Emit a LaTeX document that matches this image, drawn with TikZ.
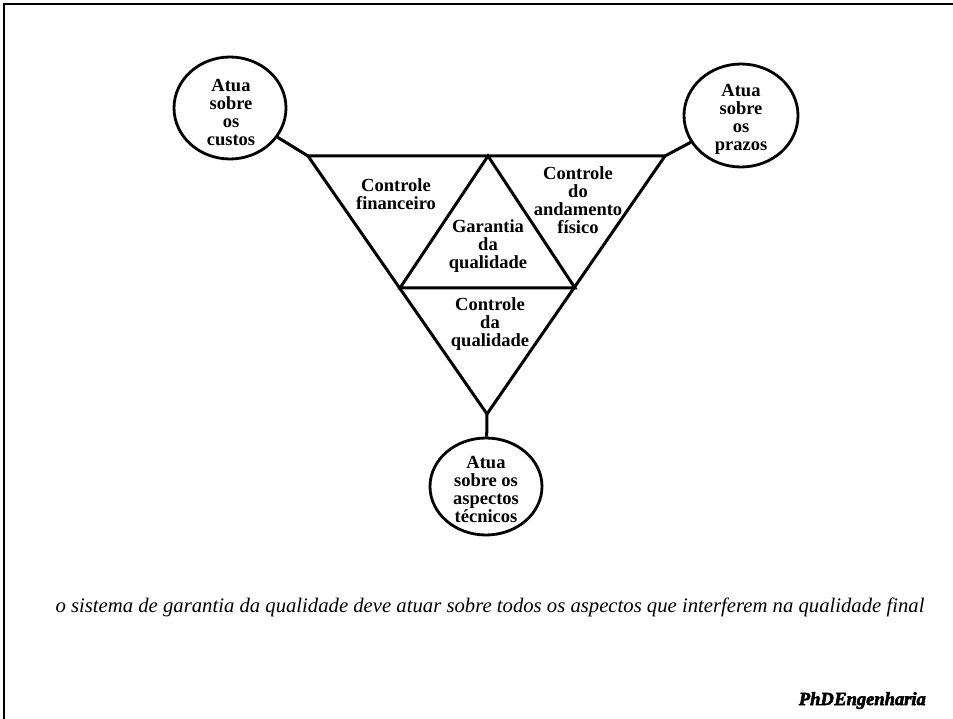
\documentclass[tikz,border=0pt]{standalone}
\usepackage{fontspec}
\setmainfont{Liberation Serif}
\newfontfamily\phdfont{Liberation Serif}[FakeBold=3]
\usetikzlibrary{shapes.geometric}
\begin{document}
\begin{tikzpicture}[x=1pt,y=-1pt,
  thick line/.style={line width=3pt, line join=miter},
  bubble/.style={ellipse, draw, line width=2.8pt, inner sep=0pt},
  lbl/.style={align=center, font=\fontsize{18.5}{18}\selectfont\bfseries, inner sep=0pt},
  caption/.style={font=\fontsize{20.7}{22}\selectfont\itshape, inner sep=0pt}]
\useasboundingbox (0,0) rectangle (953,719);
% frame
\draw[line width=2.4pt] (4.2,719) -- (4.2,4.2) -- (953,4.2);
% triangle vertices
\coordinate (TL) at (308,156);
\coordinate (TR) at (665,156);
\coordinate (B) at (487,414);
\coordinate (T) at (488,156);
\coordinate (L) at (400,288);
\coordinate (R) at (575,288);
\draw[thick line] (TL) -- (TR) -- (B) -- cycle;
\draw[thick line] (L) -- (T) -- (R) -- cycle;
% bubbles
\node[bubble, minimum width=112pt, minimum height=102pt] (c1) at (230,108) {};
\node[bubble, minimum width=114pt, minimum height=103pt] (c2) at (741,115.5) {};
\node[bubble, minimum width=112pt, minimum height=97pt] (c3) at (486,486.5) {};
\node[lbl] (t1) at (231,113) {Atua\\sobre\\os\\custos};
\node[lbl] (t2) at (741,119) {Atua\\sobre\\os\\prazos};
\node[lbl] (t3) at (486,489) {Atua\\sobre os\\aspectos\\técnicos};
% connectors
\draw[thick line] (c1) -- (TL);
\draw[thick line] (c2) -- (TR);
\draw[thick line] (c3) -- (B);
% triangle labels
\node[lbl] (f) at (396,194) {Controle\\financeiro};
\node[lbl] (g) at (488,246) {Garantia\\da\\qualidade};
\node[lbl] (a) at (578,200) {Controle\\do\\andamento\\físico};
\node[lbl] (q) at (490,324) {Controle\\da\\qualidade};
% caption
\node[caption, anchor=base] (cap) at (490,612) {o sistema de garantia da qualidade deve atuar sobre todos os aspectos que interferem na qualidade final};
\node[font=\fontsize{18.5}{18}\selectfont\phdfont\bfseries\itshape, anchor=base east, inner sep=0pt] (phd) at (926,705) {PhD\kern0.5pt Engenharia};
\end{tikzpicture}
\end{document}
